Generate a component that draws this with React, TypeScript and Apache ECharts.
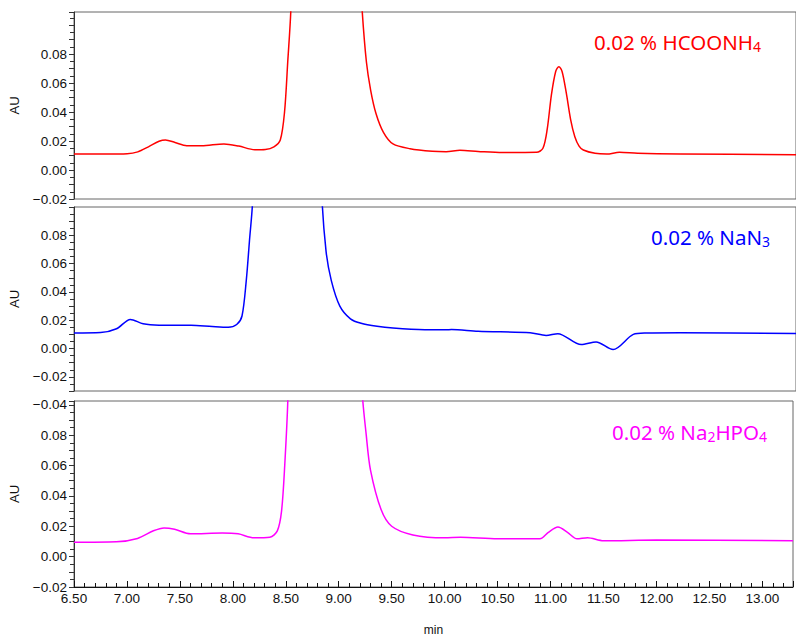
import React, { useEffect, useRef } from "react";
import * as echarts from "echarts";

// Retention time (min) and absorbance (AU)
const timeRed = [6.5, 6.8, 7.0, 7.1, 7.2, 7.3, 7.36, 7.45, 7.56, 7.7, 7.91, 8.05, 8.2, 8.3, 8.38, 8.44, 8.48, 8.51, 8.54, 8.58, 8.7, 8.85, 9.0, 9.12, 9.18, 9.21, 9.25, 9.29, 9.34, 9.41, 9.5, 9.66, 9.87, 10.0, 10.13, 10.3, 10.53, 10.85, 10.91, 10.95, 10.99, 11.03, 11.06, 11.09, 11.13, 11.17, 11.21, 11.25, 11.29, 11.4, 11.51, 11.63, 11.8, 12.2, 13.29];
const auRed = [0.011, 0.011, 0.0112, 0.0125, 0.016, 0.0198, 0.0207, 0.019, 0.0168, 0.0167, 0.018, 0.0165, 0.014, 0.0142, 0.016, 0.0207, 0.04, 0.0745, 0.112, 0.25, 0.8, 1.2, 0.8, 0.3, 0.15, 0.11, 0.0745, 0.055, 0.039, 0.026, 0.018, 0.0147, 0.0129, 0.0126, 0.0136, 0.0128, 0.012, 0.0122, 0.015, 0.028, 0.052, 0.068, 0.0713, 0.068, 0.053, 0.035, 0.023, 0.0165, 0.0138, 0.0115, 0.011, 0.0122, 0.0115, 0.011, 0.0106];

const timeBlue = [6.5, 6.75, 6.9, 7.03, 7.15, 7.3, 7.6, 7.8, 7.95, 8.03, 8.08, 8.12, 8.15, 8.18, 8.22, 8.35, 8.5, 8.65, 8.78, 8.83, 8.87, 8.92, 9.0, 9.1, 9.2, 9.35, 9.5, 9.8, 10.0, 10.05, 10.3, 10.79, 10.94, 11.05, 11.27, 11.41, 11.57, 11.76, 11.88, 12.2, 13.29];
const auBlue = [0.011, 0.0113, 0.014, 0.0206, 0.0175, 0.0165, 0.0164, 0.0155, 0.015, 0.017, 0.023, 0.048, 0.076, 0.105, 0.25, 0.8, 1.2, 0.8, 0.25, 0.11, 0.069, 0.048, 0.03, 0.021, 0.0178, 0.0157, 0.0145, 0.0133, 0.0132, 0.0135, 0.0122, 0.0112, 0.0093, 0.0105, 0.0028, 0.0047, -0.0007, 0.01, 0.011, 0.0112, 0.0107];

const timeMagenta = [6.5, 6.9, 7.1, 7.25, 7.35, 7.45, 7.6, 7.9, 8.05, 8.2, 8.35, 8.42, 8.46, 8.49, 8.52, 8.56, 8.7, 8.87, 9.02, 9.15, 9.22, 9.26, 9.3, 9.4, 9.5, 9.7, 10.0, 10.15, 10.5, 10.9, 10.98, 11.07, 11.16, 11.25, 11.35, 11.5, 12.0, 13.29];
const auMagenta = [0.0095, 0.0098, 0.012, 0.017, 0.0189, 0.018, 0.015, 0.0156, 0.015, 0.0124, 0.0128, 0.017, 0.03, 0.06, 0.105, 0.25, 0.8, 1.2, 0.8, 0.25, 0.11, 0.08, 0.057, 0.031, 0.02, 0.0143, 0.0124, 0.0127, 0.0117, 0.0117, 0.016, 0.0195, 0.016, 0.0117, 0.0124, 0.0104, 0.011, 0.0104];

const labelsMain = ["0.02 % HCOONH", "0.02 % NaN", "0.02 % Na"];
const yMins = [-0.02, -0.03, -0.02];
const yMaxs = [0.109, 0.1, 0.1025];
const xMin = 6.5;
const xMax = 13.29;

const zip = (xs: number[], ys: number[]) => xs.map((x, i) => [x, ys[i]]);

const fmtNum = (v: number) => (v < 0 ? "\u2212" + Math.abs(v).toFixed(2) : v.toFixed(2));
const isMult = (v: number, step: number) => Math.abs(v / step - Math.round(v / step)) < 1e-6;

export default function App() {
  const ref = useRef<HTMLDivElement>(null);
  useEffect(() => {
    document.body.style.margin = "0";
    if (!ref.current) return;
    const chart = echarts.init(ref.current, undefined, { renderer: "svg" });
    const font = "Liberation Sans";
    const grids = [
      { left: 74, right: 0, top: 12, height: 187 },
      { left: 74, right: 0, top: 207, height: 184 },
      { left: 74, right: 0, top: 401, height: 188 },
    ].map((g) => ({ ...g, show: true, borderColor: "#666", borderWidth: 1 }));

    const xAxes = [0, 1, 2].map((i) => ({
      type: "value",
      gridIndex: i,
      min: xMin,
      max: xMax,
      interval: 0.5,
      splitLine: { show: false },
      axisLine: { show: i === 2, onZero: false, lineStyle: { color: "#111", width: 1 } },
      axisTick: { show: i === 2, inside: true, length: 6, lineStyle: { color: "#111" } },
      minorTick: { show: i === 2, splitNumber: 5, length: 4, lineStyle: { color: "#111" } },
      axisLabel: {
        show: i === 2,
        margin: 4,
        fontSize: 13.5,
        fontFamily: font,
        color: "#111",
        formatter: (v: number) => (isMult(v, 0.5) ? v.toFixed(2) : ""),
      },
      name: i === 2 ? "min" : "",
      nameLocation: "middle",
      nameGap: 37,
      nameTextStyle: { fontSize: 12, fontFamily: font, color: "#111" },
    }));

    const yAxes = [0, 1, 2].map((i) => ({
      type: "value",
      gridIndex: i,
      min: yMins[i],
      max: yMaxs[i],
      interval: 0.01,
      splitLine: { show: false },
      axisLine: { show: true, onZero: false, lineStyle: { color: "#333", width: 1 } },
      axisTick: { show: true, length: 5, lineStyle: { color: "#333" } },
      minorTick: { show: true, splitNumber: 2, length: 4, lineStyle: { color: "#333" } },
      axisLabel: {
        margin: 7,
        fontSize: 13.5,
        fontFamily: font,
        color: "#111",
        formatter: (v: number) => {
          if (!isMult(v, 0.02)) return "";
          if (v > 0.09) return i === 2 && isMult(v, 0.1) ? fmtNum(-0.04) : "";
          return fmtNum(v);
        },
      },
      name: "AU",
      nameLocation: "middle",
      nameRotate: 90,
      nameGap: 53,
      nameTextStyle: { fontSize: 13, fontFamily: font, color: "#111" },
    }));

    const mk = (i: number, xs: number[], ys: number[], color: string) => ({
      type: "line",
      xAxisIndex: i,
      yAxisIndex: i,
      data: zip(xs, ys),
      showSymbol: false,
      smooth: 0.3,
      clip: true,
      lineStyle: { color, width: 1.5 },
      silent: true,
    });

    const legendFont = "Noto Sans";
    const mkText = (x: number, y: number, parts: string[], color: string) => ({
      type: "text",
      x,
      y,
      silent: true,
      style: {
        text: parts.join(""),
        align: "right",
        verticalAlign: "middle",
        fill: color,
        font: `20.5px "${legendFont}"`,
        rich: {
          m: { fontSize: 20.5, fontFamily: legendFont, fill: color },
          s: { fontSize: 14, fontFamily: legendFont, fill: color, padding: [9, 0, 0, 0] },
        },
      },
    });

    chart.setOption({
      animation: false,
      backgroundColor: "#fff",
      grid: grids,
      xAxis: xAxes,
      yAxis: yAxes,
      series: [
        mk(0, timeRed, auRed, "#ff0000"),
        mk(1, timeBlue, auBlue, "#0000ff"),
        mk(2, timeMagenta, auMagenta, "#ff00ff"),
      ],
      graphic: [
        mkText(761, 42, [`{m|${labelsMain[0]}}`, "{s|4}"], "#ff0000"),
        mkText(770, 237, [`{m|${labelsMain[1]}}`, "{s|3}"], "#0000ff"),
        mkText(767, 432, [`{m|${labelsMain[2]}}`, "{s|2}", "{m|HPO}", "{s|4}"], "#ff00ff"),
      ],
    });
    return () => chart.dispose();
  }, []);
  return <div ref={ref} style={{ width: 796, height: 637 }} />;
}
